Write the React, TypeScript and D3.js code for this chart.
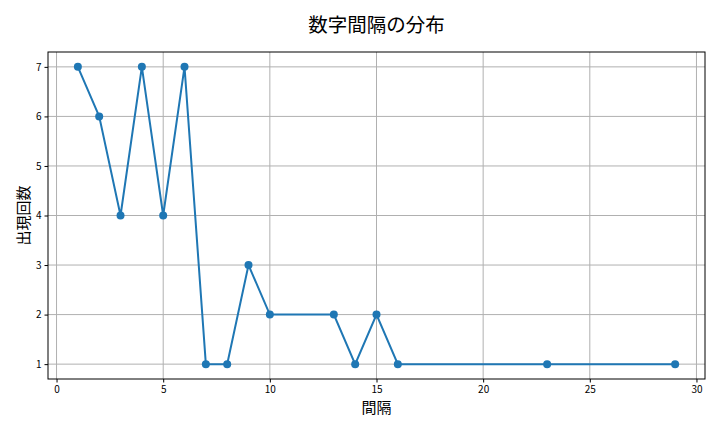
import { useEffect, useRef } from 'react'
import * as d3 from 'd3'

const W = 720, H = 432
const M = { top: 52, right: 15, bottom: 53, left: 48 }

const GAPS   = [1, 2, 3, 4, 5, 6, 7, 8, 9, 10, 13, 14, 15, 16, 23, 29]
const COUNTS = [7, 6, 4, 7, 4, 7, 1, 1, 3, 2, 2, 1, 2, 1, 1, 1]
const X_TICKS = [0, 5, 10, 15, 20, 25, 30]
const Y_TICKS = [1, 2, 3, 4, 5, 6, 7]

const TITLE = '数字間隔の分布'
const X_LABEL = '間隔'
const Y_LABEL = '出現回数'

const FONT = '"Noto Sans CJK JP", "Noto Sans", sans-serif'
const BLUE = '#1f77b4'

export default function App() {
  const svgRef = useRef<SVGSVGElement>(null)

  useEffect(() => {
    const svg = d3.select(svgRef.current!)
    svg.selectAll('*').remove()

    const iw = W - M.left - M.right
    const ih = H - M.top - M.bottom
    const g = svg.append('g').attr('transform', `translate(${M.left},${M.top})`)

    // ── scales (matplotlib-style 5% margins) ──────────────────────────────
    const xs = d3.scaleLinear().domain([-0.4, 30.4]).range([0, iw])
    const ys = d3.scaleLinear().domain([0.7, 7.3]).range([ih, 0])

    // ── grid ─────────────────────────────────────────────────────────────
    g.selectAll('line.gx').data(X_TICKS).join('line').attr('class', 'gx')
      .attr('x1', d => xs(d)).attr('x2', d => xs(d)).attr('y1', 0).attr('y2', ih)
      .attr('stroke', '#b0b0b0').attr('stroke-width', 1)
    g.selectAll('line.gy').data(Y_TICKS).join('line').attr('class', 'gy')
      .attr('y1', d => ys(d)).attr('y2', d => ys(d)).attr('x1', 0).attr('x2', iw)
      .attr('stroke', '#b0b0b0').attr('stroke-width', 1)

    // ── axes ─────────────────────────────────────────────────────────────
    g.append('g').attr('transform', `translate(0,${ih})`)
      .call(d3.axisBottom(xs).tickValues(X_TICKS).tickFormat(d => String(d)).tickSize(3.5).tickPadding(3))
      .call(ax => {
        ax.select('.domain').remove()
        ax.selectAll('.tick line').attr('stroke', '#000')
        ax.selectAll('.tick text').attr('font-size', 10).attr('font-family', FONT).attr('fill', '#000')
      })
    g.append('g')
      .call(d3.axisLeft(ys).tickValues(Y_TICKS).tickFormat(d => String(d)).tickSize(3.5).tickPadding(3))
      .call(ax => {
        ax.select('.domain').remove()
        ax.selectAll('.tick line').attr('stroke', '#000')
        ax.selectAll('.tick text').attr('font-size', 10).attr('font-family', FONT).attr('fill', '#000')
      })

    g.append('rect').attr('width', iw).attr('height', ih)
      .attr('fill', 'none').attr('stroke', '#000').attr('stroke-width', 1)

    // ── line + markers ───────────────────────────────────────────────────
    const idx = d3.range(GAPS.length)
    g.append('path').datum(idx)
      .attr('d', d3.line<number>().x(i => xs(GAPS[i])).y(i => ys(COUNTS[i])))
      .attr('fill', 'none').attr('stroke', BLUE).attr('stroke-width', 2)
    g.selectAll('circle').data(idx).join('circle')
      .attr('cx', i => xs(GAPS[i])).attr('cy', i => ys(COUNTS[i])).attr('r', 4)
      .attr('fill', BLUE)

    // ── labels ───────────────────────────────────────────────────────────
    svg.append('text').attr('x', M.left + iw / 2).attr('y', 32)
      .attr('text-anchor', 'middle').attr('font-size', 19.5).attr('font-weight', 400)
      .attr('font-family', FONT).attr('fill', '#000').text(TITLE)
    svg.append('text').attr('x', M.left + iw / 2).attr('y', 413)
      .attr('text-anchor', 'middle').attr('font-size', 15)
      .attr('font-family', FONT).attr('fill', '#000').text(X_LABEL)
    svg.append('text').attr('transform', `translate(29,${M.top + ih / 2}) rotate(-90)`)
      .attr('text-anchor', 'middle').attr('font-size', 15)
      .attr('font-family', FONT).attr('fill', '#000').text(Y_LABEL)
  }, [])

  return (
    <svg ref={svgRef} width={W} height={H} viewBox={`0 0 ${W} ${H}`}
      style={{ position: 'absolute', left: 0, top: 0, background: '#fff' }} />
  )
}
